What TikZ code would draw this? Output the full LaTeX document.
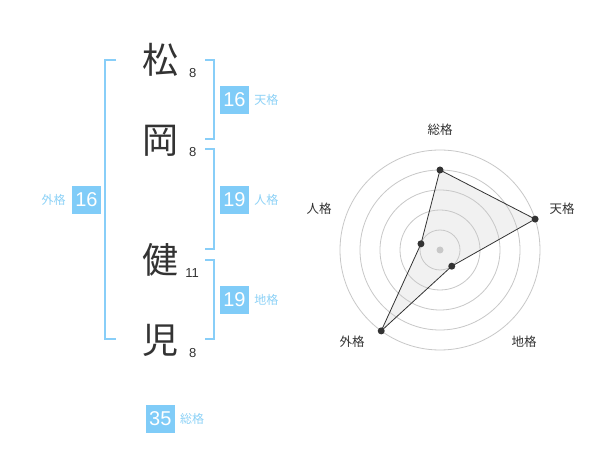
\documentclass[tikz,border=0pt]{standalone}
\usepackage{fontspec}
\setmainfont{Liberation Sans}
\newfontfamily\jp{Noto Sans CJK JP}
\usetikzlibrary{calc}
\definecolor{boxblue}{HTML}{80CCF8}
\definecolor{lblblue}{HTML}{8DD2F7}
\definecolor{brblue}{HTML}{88CEF8}
\definecolor{dk}{HTML}{333333}
\definecolor{ring}{HTML}{C8C8C8}
\definecolor{area}{HTML}{F1F1F1}
\tikzset{
  kanji/.style={inner sep=0pt, text=dk, font=\jp\fontsize{36}{36}\selectfont},
  strokes/.style={inner sep=0pt, text=dk, font=\fontsize{13}{13}\selectfont},
  numbox/.style={inner sep=0pt, minimum width=29pt, minimum height=28pt, fill=boxblue, text=white, font=\fontsize{20}{20}\selectfont},
  kaku/.style={inner sep=0pt, text=lblblue, font=\jp\fontsize{12}{12}\selectfont},
  bracket/.style={draw=brblue, line width=2pt},
  radlbl/.style={inner sep=0pt, text=dk, font=\jp\fontsize{12.5}{12.5}\selectfont},
  ringline/.style={draw=ring, line width=0.8pt},
  dot/.style={circle, fill=dk, inner sep=0pt, minimum size=7pt},
}
\begin{document}
\begin{tikzpicture}[x=1pt,y=-1pt]
\useasboundingbox (0,0) rectangle (600,470);
\fill[white] (0,0) rectangle (600,470);

% name characters
\node[kanji] (k1) at (160,60) {松};
\node[kanji] (k2) at (160,141) {岡};
\node[kanji] (k3) at (160,260) {健};
\node[kanji] (k4) at (160,340) {児};
\node[strokes] (s1) at (192.7,72.7) {8};
\node[strokes] (s2) at (192.7,152) {8};
\node[strokes] (s3) at (192,272.7) {11};
\node[strokes] (s4) at (192.7,353) {8};

% brackets
\draw[bracket] (116,60) -- (105,60) -- (105,339) -- (116,339);
\draw[bracket] (205,60) -- (214,60) -- (214,139) -- (205,139);
\draw[bracket] (205,149) -- (214,149) -- (214,249) -- (205,249);
\draw[bracket] (205,260) -- (214,260) -- (214,339) -- (205,339);

% boxes
\node[numbox] (ten) at (234.5,100) {16};
\node[kaku, anchor=west] (tenl) at ($(ten.east)+(5,0)$) {天格};
\node[numbox] (jin) at (234.5,200) {19};
\node[kaku, anchor=west] (jinl) at ($(jin.east)+(5,0)$) {人格};
\node[numbox] (chi) at (234.5,300) {19};
\node[kaku, anchor=west] (chil) at ($(chi.east)+(5,0)$) {地格};
\node[numbox] (gai) at (86.5,200) {16};
\node[kaku, anchor=east] (gail) at ($(gai.west)+(-6,0)$) {外格};
\node[numbox] (sou) at (160.3,419) {35};
\node[kaku, anchor=west] (soul) at ($(sou.east)+(5,0)$) {総格};

% radar chart
\coordinate (c) at (440,250);
\coordinate (p1) at ($(c)+(90:80pt)$);
\coordinate (p2) at ($(c)+(18:100pt)$);
\coordinate (p3) at ($(c)+(-54:20pt)$);
\coordinate (p4) at ($(c)+(-126:100pt)$);
\coordinate (p5) at ($(c)+(162:20pt)$);
\fill[area] (p1) -- (p2) -- (p3) -- (p4) -- (p5) -- cycle;
\foreach \r in {20,40,60,80,100} \draw[ringline] (c) circle[radius=\r pt];
\fill[ring] (c) circle[radius=3.5pt];
\draw[dk, line width=0.8pt] (p1) -- (p2) -- (p3) -- (p4) -- (p5) -- cycle;
\foreach \p in {p1,p2,p3,p4,p5} \node[dot] at (\p) {};

\node[radlbl] (r1) at (440,130) {総格};
\node[radlbl] (r2) at (562,209) {天格};
\node[radlbl] (r3) at (319,209) {人格};
\node[radlbl] (r4) at (352,342) {外格};
\node[radlbl] (r5) at (524,342) {地格};
\end{tikzpicture}
\end{document}
